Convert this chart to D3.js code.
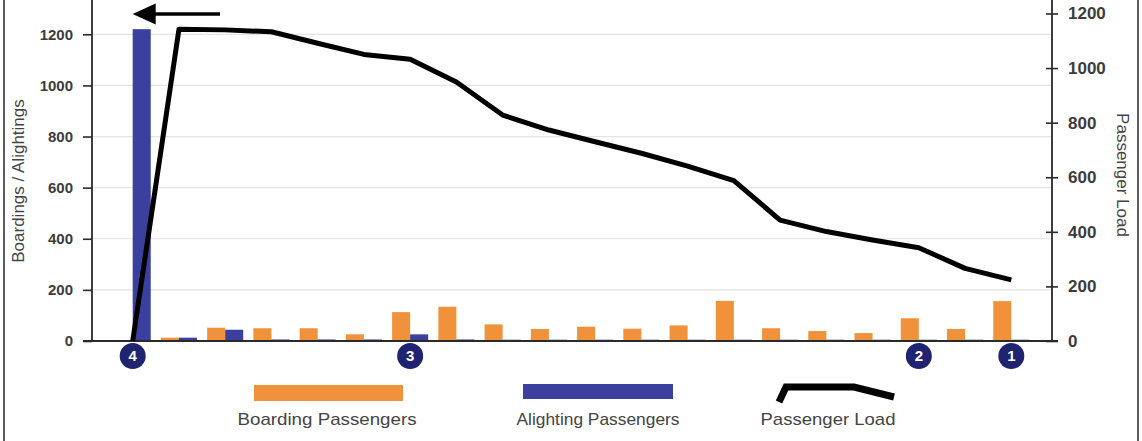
<!DOCTYPE html>
<html>
<head>
<meta charset="utf-8">
<script src="https://cdn.jsdelivr.net/npm/d3@7"></script>
<style>
  html, body { margin: 0; padding: 0; background: #fff; }
  svg { display: block; font-family: "Liberation Sans", Arial, sans-serif; }
</style>
</head>
<body>
<svg id="chart" width="1142" height="441"></svg>
<script>
// ---- data ----
const stops = d3.range(1, 21).map(i => "Stop " + i);
const boardings  = [3, 13, 52, 50, 50, 26, 113, 134, 65, 47, 56, 48, 61, 157, 50, 39, 31, 89, 47, 156];
const alightings = [1220, 13, 44, 6, 6, 6, 26, 6, 5, 5, 5, 5, 5, 5, 5, 5, 5, 5, 5, 5];
const passengerLoad = [0, 1142, 1140, 1133, 1091, 1050, 1032, 949, 828, 773, 730, 688, 641, 588, 443, 401, 370, 342, 266, 224];
const timepointStops = [0, 6, 17, 19];
const timepointLabels = ["4", "3", "2", "1"];
const leftTicks = [0, 200, 400, 600, 800, 1000, 1200];
const rightTicks = [0, 200, 400, 600, 800, 1000, 1200];
const legendLabels = ["Boarding Passengers", "Alighting Passengers", "Passenger Load"];
const leftTitle = "Boardings / Alightings";
const rightTitle = "Passenger Load";

// ---- styles ----
const ORANGE = "#f0923b", BLUE = "#3b3f9d", NAVY = "#1f2370", AXIS = "#2a2a2a";

const svg = d3.select("#chart");
const x0 = 92, x1 = 1052, yBase = 341;

const x = d3.scaleBand().domain(stops).range([x0, x1]).paddingInner(0.22).paddingOuter(0.49);
const xs = d3.scaleBand().domain(["b", "a"]).range([0, x.bandwidth()]);
const yL = d3.scaleLinear().domain([0, 1200]).range([yBase, 34.3]);
const yR = d3.scaleLinear().domain([0, 1200]).range([yBase, 13.5]);
const cx = i => x(stops[i]) + x.bandwidth() / 2;

// frame
svg.append("line").attr("x1", 4).attr("x2", 4).attr("y1", 0).attr("y2", 441).attr("stroke", "#333").attr("stroke-width", 1.6);
svg.append("line").attr("x1", 1138).attr("x2", 1138).attr("y1", 0).attr("y2", 441).attr("stroke", "#333").attr("stroke-width", 1.6);

// gridlines
svg.append("g").selectAll("line").data(leftTicks.filter(d => d > 0)).join("line")
  .attr("x1", x0).attr("x2", x1).attr("y1", d => yL(d)).attr("y2", d => yL(d))
  .attr("stroke", "#e4e4e4").attr("stroke-width", 1.2);

// bars
const g = svg.append("g");
g.selectAll("rect.b").data(boardings).join("rect").attr("class", "b")
  .attr("x", (d, i) => x(stops[i]) + xs("b")).attr("width", xs.bandwidth())
  .attr("y", d => yL(d)).attr("height", d => yBase - yL(d)).attr("fill", ORANGE);
g.selectAll("rect.a").data(alightings).join("rect").attr("class", "a")
  .attr("x", (d, i) => x(stops[i]) + xs("a")).attr("width", xs.bandwidth())
  .attr("y", d => yL(d)).attr("height", d => yBase - yL(d)).attr("fill", BLUE);

// left axis
const lAxis = svg.append("g").attr("transform", `translate(${x0},0)`);
lAxis.call(d3.axisLeft(yL).tickValues(d3.range(0, 1340, 40)).tickSize(6).tickFormat(""));
lAxis.call(d3.axisLeft(yL).tickValues(leftTicks).tickSize(9).tickFormat(d3.format("d")).tickPadding(10));
lAxis.selectAll(".domain").remove();
lAxis.selectAll("line").attr("stroke", AXIS).attr("stroke-width", 1.6);
lAxis.selectAll("text").attr("font-size", 15).attr("font-weight", "bold").attr("fill", "#3c3c3c").attr("font-family", "Liberation Sans, Arial, sans-serif");
lAxis.append("line").attr("y1", 0).attr("y2", yBase).attr("stroke", AXIS).attr("stroke-width", 1.8);

// right axis
const rAxis = svg.append("g").attr("transform", `translate(${x1},0)`);
rAxis.call(d3.axisRight(yR).tickValues(d3.range(0, 1260, 40)).tickSize(6).tickFormat(""));
rAxis.call(d3.axisRight(yR).tickValues(rightTicks).tickSizeInner(6).tickSizeOuter(0).tickFormat(d3.format("d")).tickPadding(10));
rAxis.selectAll(".domain").remove();
rAxis.selectAll(".tick").filter(d => rightTicks.includes(d)).select("line").attr("x1", -6).attr("x2", 6);
rAxis.selectAll("line").attr("stroke", AXIS).attr("stroke-width", 1.6);
rAxis.selectAll("text").attr("font-size", 17).attr("font-weight", "bold").attr("fill", "#3c3c3c").attr("font-family", "Liberation Sans, Arial, sans-serif");
rAxis.append("line").attr("y1", 0).attr("y2", yBase).attr("stroke", AXIS).attr("stroke-width", 1.8);

// baseline
svg.append("line").attr("x1", 83).attr("x2", 1058).attr("y1", yBase).attr("y2", yBase)
  .attr("stroke", AXIS).attr("stroke-width", 2);

// load line
svg.append("path").datum(passengerLoad)
  .attr("d", d3.line().x((d, i) => cx(i)).y(d => yR(d)))
  .attr("fill", "none").attr("stroke", "#000").attr("stroke-width", 5).attr("stroke-linejoin", "round");

// direction arrow
svg.append("line").attr("x1", cx(0) + 20).attr("x2", 220).attr("y1", 14).attr("y2", 14)
  .attr("stroke", "#000").attr("stroke-width", 3.5);
svg.append("path").attr("d", d3.line()([[cx(0), 14], [cx(0) + 23, 3.5], [cx(0) + 23, 24.5]]) + "Z").attr("fill", "#000");

// timepoint badges
const tp = svg.append("g").selectAll("g").data(timepointStops).join("g")
  .attr("transform", d => `translate(${cx(d)},356)`);
tp.append("circle").attr("r", 13).attr("fill", NAVY);
tp.append("text").text((d, i) => timepointLabels[i]).attr("text-anchor", "middle").attr("dy", "0.36em")
  .attr("fill", "#fff").attr("font-weight", "bold").attr("font-size", 15);

// axis titles
svg.append("text").text(leftTitle).attr("transform", "translate(24,181) rotate(-90)")
  .attr("text-anchor", "middle").attr("font-size", 17).attr("fill", "#444");
svg.append("text").text(rightTitle).attr("transform", "translate(1117,175) rotate(90)")
  .attr("text-anchor", "middle").attr("font-size", 17).attr("fill", "#444");

// legend
const leg = svg.append("g");
leg.append("rect").attr("x", 254).attr("y", 385).attr("width", 149).attr("height", 16).attr("fill", ORANGE);
leg.append("rect").attr("x", 523).attr("y", 384).attr("width", 150).attr("height", 15).attr("fill", BLUE);
leg.append("path").attr("d", d3.line()([[779, 402], [786, 387], [854, 387], [894, 397]]))
  .attr("fill", "none").attr("stroke", "#000").attr("stroke-width", 7);
const legX = [327, 598, 828];
const legW = [179, 163, 135];
leg.selectAll("text").data(legendLabels).join("text").text(d => d)
  .attr("x", (d, i) => legX[i]).attr("y", 425).attr("text-anchor", "middle")
  .attr("font-size", 17).attr("fill", "#444")
  .attr("textLength", (d, i) => legW[i]).attr("lengthAdjust", "spacingAndGlyphs");
</script>
</body>
</html>
